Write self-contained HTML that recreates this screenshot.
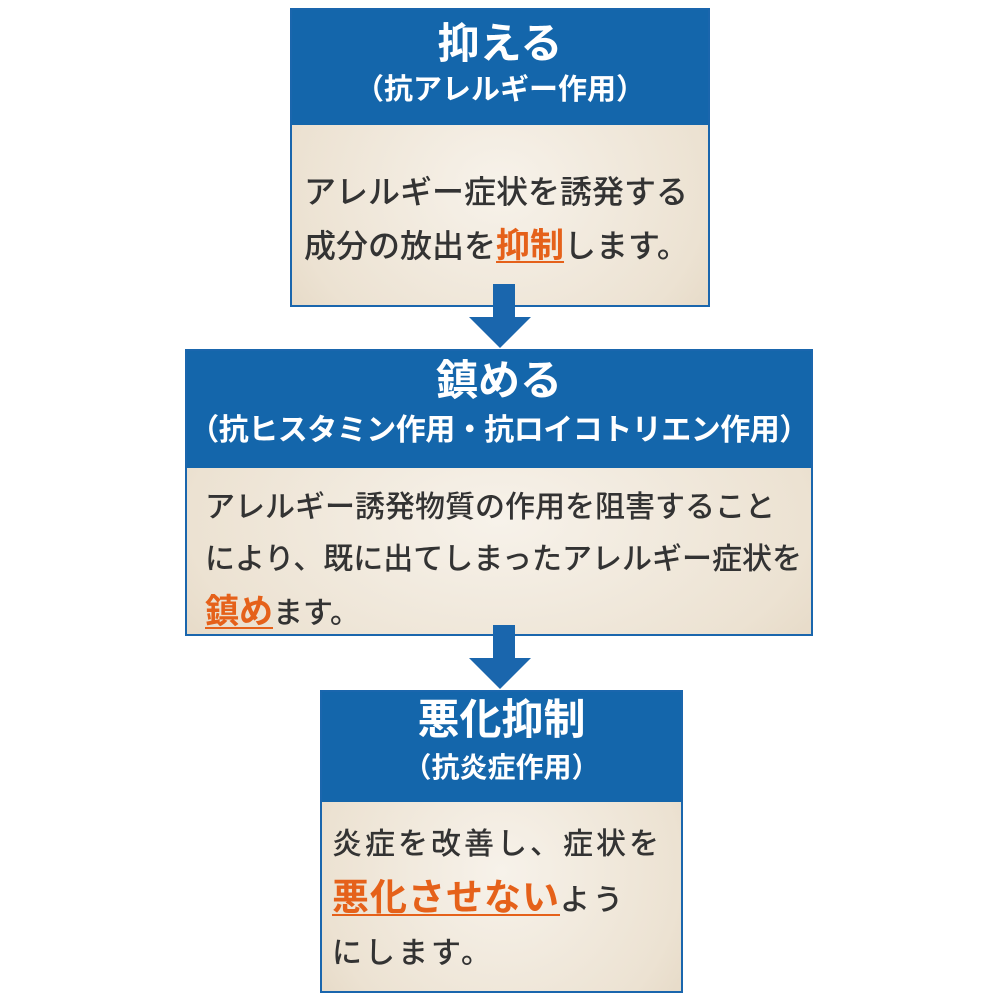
<!DOCTYPE html>
<html><head><meta charset="utf-8"><style>
body{margin:0;width:1000px;height:1000px;background:#fff;position:relative;overflow:hidden;font-family:"Liberation Sans","Noto Sans CJK JP",sans-serif;}
.box{position:absolute;border:2px solid #1a66ad;box-sizing:border-box;background:radial-gradient(ellipse at 50% 60%,#f7f2ea 0%,#ece2d2 70%,#e2d4bf 100%);}
.hd{background:#1466ab;color:#fff;text-align:center;font-weight:bold;}
.t1{font-size:42px;line-height:52px;}
.t2{font-size:28px;line-height:36px;}
.bd{color:#333;font-size:31px;line-height:50px;font-weight:500;white-space:nowrap;}
.o{color:#e5611a;font-weight:bold;text-decoration:underline;text-decoration-thickness:2px;text-underline-offset:4px;font-size:34px;}
.ar{position:absolute;}
</style></head><body>
<div class="box" style="left:290px;top:8px;width:420px;height:299px">
<div class="hd" style="height:115px;padding-top:8px;box-sizing:border-box"><div class="t1">抑える</div><div class="t2" style="margin-top:2px;font-size:29px">（抗アレルギー作用）</div></div>
<div class="bd" style="padding:40px 0 0 12px;font-size:32px;line-height:54px">アレルギー症状を誘発する<br>成分の放出を<span class="o">抑制</span>します。</div>
</div>
<svg class="ar" style="left:460px;top:284px" width="80" height="66"><polygon points="33,0 55,0 55,33 71,33 40,64 9,33 33,33" fill="#1a66ad"/></svg>
<div class="box" style="left:185px;top:349px;width:628px;height:287px">
<div class="hd" style="height:117px;padding-top:4px;box-sizing:border-box"><div class="t1">鎮める</div><div class="t2" style="margin-top:6px;font-size:30px;letter-spacing:-0.5px">（抗ヒスタミン作用・抗ロイコトリエン作用）</div></div>
<div class="bd" style="padding:14px 0 0 18px;line-height:52px;font-size:30px">アレルギー誘発物質の作用を阻害すること<br>により、既に出てしまったアレルギー症状を<br><span class="o">鎮め</span>ます。</div>
</div>
<svg class="ar" style="left:460px;top:625px" width="80" height="66"><polygon points="33,0 55,0 55,33 71,33 40,64 9,33 33,33" fill="#1a66ad"/></svg>
<div class="box" style="left:320px;top:690px;width:363px;height:303px">
<div class="hd" style="height:110px;padding-top:2px;box-sizing:border-box"><div class="t1">悪化抑制</div><div class="t2" style="margin-top:4px">（抗炎症作用）</div></div>
<div class="bd" style="padding:16px 0 0 10px;line-height:53px;letter-spacing:3px;font-size:30px">炎症を改善し、症状を<br><span class="o" style="font-size:37px;letter-spacing:1px">悪化させない</span>よう<br>にします。</div>
</div>
</body></html>
